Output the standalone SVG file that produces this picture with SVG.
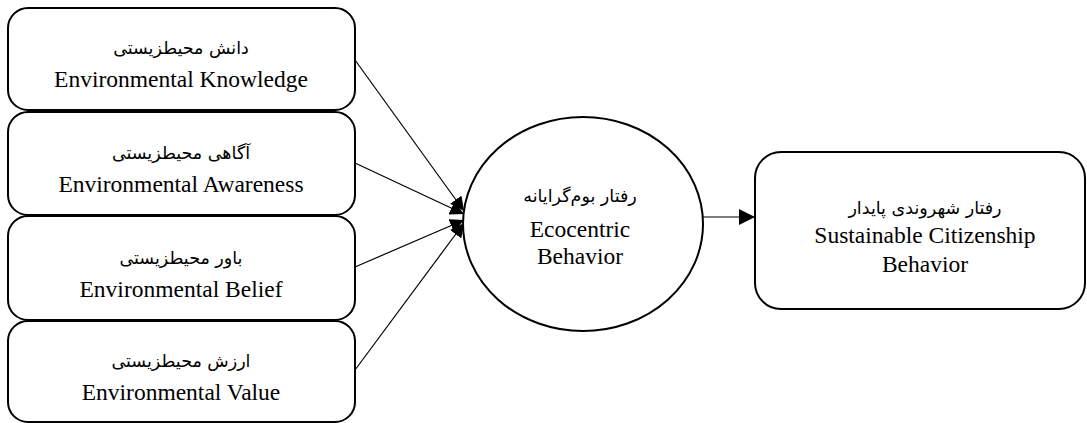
<svg xmlns="http://www.w3.org/2000/svg" width="1087" height="423" viewBox="0 0 1087 423">
<defs>
<marker id="arr" viewBox="0 0 14 14" refX="14" refY="7" markerWidth="14" markerHeight="14" markerUnits="userSpaceOnUse" orient="auto">
<path d="M0,0 L14,7 L0,14 Z" fill="#000"/>
</marker>
<marker id="arrR" viewBox="0 0 16 16" refX="16" refY="8" markerWidth="16" markerHeight="16" markerUnits="userSpaceOnUse" orient="auto">
<path d="M0,0 L16,8 L0,16 Z" fill="#000"/>
</marker>
</defs>
<style>
.box{fill:#fff;stroke:#000;stroke-width:2}
.en{font-family:"Liberation Serif","Times New Roman",serif;font-size:23.5px;text-anchor:middle;fill:#000}
.fa{font-family:"DejaVu Sans","Noto Sans",sans-serif;font-size:17.5px;text-anchor:middle;fill:#000}
.ln{stroke:#000;stroke-width:1.2;fill:none}
</style>
<rect width="1087" height="423" fill="#fff"/>
<g id="connectors">
<line class="ln" x1="355" y1="60" x2="464" y2="211" marker-end="url(#arr)"/>
<line class="ln" x1="355" y1="163" x2="464" y2="214" marker-end="url(#arr)"/>
<line class="ln" x1="355" y1="267" x2="464" y2="220" marker-end="url(#arr)"/>
<line class="ln" x1="355" y1="370" x2="464" y2="223" marker-end="url(#arr)"/>
<line class="ln" x1="703" y1="217" x2="755" y2="217" marker-end="url(#arrR)"/>
</g>
<g id="knowledge">
<rect class="box" x="8" y="8" width="347" height="102" rx="20"/>
<text class="fa" x="181" y="54" direction="rtl">دانش محیطزیستی</text>
<text class="en" x="181" y="87">Environmental Knowledge</text>
</g>
<g id="awareness">
<rect class="box" x="8" y="112" width="347" height="103" rx="20"/>
<text class="fa" x="181" y="159" direction="rtl">آگاهی محیطزیستی</text>
<text class="en" x="181" y="192">Environmental Awareness</text>
</g>
<g id="belief">
<rect class="box" x="8" y="216" width="347" height="104" rx="20"/>
<text class="fa" x="181" y="264" direction="rtl">باور محیطزیستی</text>
<text class="en" x="181" y="297">Environmental Belief</text>
</g>
<g id="value">
<rect class="box" x="8" y="321" width="347" height="101" rx="20"/>
<text class="fa" x="181" y="367" direction="rtl">ارزش محیطزیستی</text>
<text class="en" x="181" y="400">Environmental Value</text>
</g>
<g id="ecocentric">
<ellipse class="box" cx="583" cy="224" rx="120" ry="107"/>
<text class="fa" x="580" y="202" direction="rtl">رفتار بوم&#8204;گرایانه</text>
<text class="en" x="580" y="237">Ecocentric</text>
<text class="en" x="580" y="264">Behavior</text>
</g>
<g id="citizenship">
<rect class="box" x="755" y="152" width="330" height="157" rx="26"/>
<text class="fa" x="925" y="214" direction="rtl">رفتار شهروندی پایدار</text>
<text class="en" x="925" y="243">Sustainable Citizenship</text>
<text class="en" x="925" y="272">Behavior</text>
</g>
</svg>
